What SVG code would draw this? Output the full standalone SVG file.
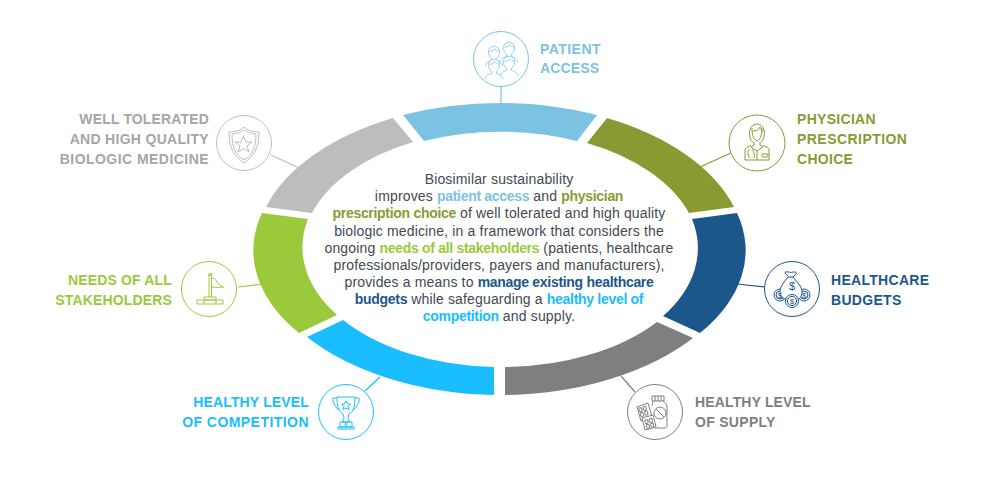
<svg xmlns="http://www.w3.org/2000/svg" xmlns:xlink="http://www.w3.org/1999/xlink" width="995" height="479" viewBox="0 0 995 479">
<style>
text{font-family:"Liberation Sans",Arial,sans-serif}
.lb{font-size:14px;font-weight:700;letter-spacing:.15px}
.w1{letter-spacing:.3px}
.w2{letter-spacing:.45px}
.e{text-anchor:end}
.body{font-size:14px;fill:#414a52;text-anchor:middle;letter-spacing:.16px}
.body tspan{font-weight:700;letter-spacing:-.3px}
.ic{fill:none;stroke-width:1}
.ring{fill:#fff;stroke-width:1}
.c-a{color:#7cc3e3}
.ln{stroke-width:1.2;fill:none}
</style>
<defs>
<g id="person" fill="#fff" stroke="currentColor" stroke-width="1">
<path d="M-11 14c1-5 4-6 8-7l0-3c-3-2-4-5-4-8 0-4 3-7 7-7s7 3 7 7c0 3-1 6-4 8l0 3c4 1 7 2 8 7"/>
<path d="M-6-5c3 1 6-1 7-3 1 2 3 3 5 3"/>
</g>
</defs>

<g id="connectors">
<line x1="501" y1="87" x2="501" y2="104" class="ln" stroke="#7cc3e3"/>
<line x1="731" y1="153" x2="700" y2="167" class="ln" stroke="#8a9a32"/>
<line x1="765" y1="287" x2="737" y2="284" class="ln" stroke="#1c578c"/>
<line x1="635" y1="392" x2="621" y2="376" class="ln" stroke="#7f7f7f"/>
<line x1="365" y1="391" x2="380" y2="377" class="ln" stroke="#1abdff"/>
<line x1="238" y1="287" x2="263" y2="284" class="ln" stroke="#9aca3c"/>
<line x1="271" y1="155" x2="299" y2="168" class="ln" stroke="#bdbdbd"/>
</g>

<g id="ring">
<path fill="#7cc3e3" d="M403 115A246 148 0 0 1 597 115L577 141A198 120 0 0 0 424 141Z"/>
<path fill="#8a9a32" d="M607 118A246 148 0 0 1 734 207L689 213A198 120 0 0 0 587 143Z"/>
<path fill="#1c578c" d="M737 213A230 138 0 0 1 700 333L663 316A198 120 0 0 0 692 219Z"/>
<path fill="#7f7f7f" d="M693 338A246 148 0 0 1 505 395L505 367A198 120 0 0 0 657 322Z"/>
<path fill="#1abdff" d="M494 395A246 148 0 0 1 307 337L343 320A198 120 0 0 0 494 367Z"/>
<path fill="#9aca3c" d="M299 333A230 138 0 0 1 262 213L308 219A198 120 0 0 0 337 315Z"/>
<path fill="#bdbdbd" d="M266 207A246 148 0 0 1 393 118L413 142A198 120 0 0 0 312 213Z"/>
</g>

<g id="node-patient-access" class="c-a">
<circle cx="501" cy="59" r="27.500" class="ring" stroke="#7cc3e3"/>
<use xlink:href="#person" href="#person" transform="translate(494 55) scale(.8)"/>
<use xlink:href="#person" href="#person" transform="translate(509 51) scale(.8)"/>
<use xlink:href="#person" href="#person" transform="translate(494 68) scale(.8)"/>
<use xlink:href="#person" href="#person" transform="translate(509 65) scale(.8)"/>
<text class="lb" fill="#7cc3e3"><tspan class="w2" x="540" y="54">PATIENT</tspan><tspan x="540" y="73">ACCESS</tspan></text>
</g>

<g id="node-physician">
<circle cx="757" cy="143" r="28" class="ring" stroke="#8a9a32"/>
<g class="ic" stroke="#8a9a32">
<path d="M750 137c-2-9 3-13 7-13s9 4 7 13c-1 3-2 4-3 5"/>
<path d="M750 137c0 3 2 5 3 5M753 131c3 0 6-1 7-4 1 2 2 4 3 5"/>
<path d="M752 128c0 6 1 11 5 13 4-2 5-7 5-13"/>
<path d="M754 142v3l-3 2 6 4 6-4-3-2v-3"/>
<path d="M745 160v-10c0-2 2-3 5-4l1-1M769 160v-10c0-2-2-3-5-4l-1-1"/>
<path d="M745 160h24M757 151v9"/>
<path d="M749 149c-2 3-1 7 1 9M754 158c1-3 0-6-2-9"/>
<rect x="762" y="154" width="6" height="3" rx="1"/>
</g>
<text class="lb w1" fill="#8a9a32"><tspan x="797" y="124">PHYSICIAN</tspan><tspan class="w2" x="797" y="144">PRESCRIPTION</tspan><tspan x="797" y="164">CHOICE</tspan></text>
</g>

<g id="node-budgets">
<circle cx="792" cy="289" r="27.500" class="ring" stroke="#1c578c"/>
<g class="ic" stroke="#1c578c">
<circle cx="780" cy="295" r="6"/><circle cx="804" cy="295" r="6"/>
<circle cx="780" cy="295" r="4"/><circle cx="804" cy="295" r="4"/>
</g>
<g fill="#fff" stroke="#1c578c">
<path d="M788 276l-3-3c0-2 2-1 3-1 2 0 3 1 5 0 2 0 4 0 3 2l-3 3"/>
<path d="M788 277c-3 4-8 9-8 15 0 4 3 7 6 7h12c2 0 4-3 4-7 0-6-6-11-9-15z"/>
<circle cx="792" cy="301" r="6.500"/><circle cx="792" cy="301" r="4.600"/>
</g>
<g text-anchor="middle" fill="#1c578c">
<text x="780" y="298" font-size="8">$</text>
<text x="804" y="298" font-size="8">$</text>
<text x="792" y="304" font-size="8">$</text>
<text x="792" y="290" font-size="11">$</text>
</g>
<text class="lb w1" fill="#1c578c"><tspan x="831" y="285">HEALTHCARE</tspan><tspan x="831" y="305">BUDGETS</tspan></text>
</g>

<g id="node-supply">
<circle cx="655" cy="412" r="27.500" class="ring" stroke="#7f7f7f"/>
<g class="ic" stroke="#7f7f7f">
<path d="M652 396h12v5h-12zM655 396v5M658 396v5M661 396v5"/>
<path d="M653 401c0 2-1 3-1 5M663 401c2 1 4 3 4 6v19c0 1-1 2-2 2h-10"/>
<circle cx="660" cy="413" r="6"/>
<path d="M656 409l8 8"/>
<path d="M637 407l11-4 4 14-11 4z" fill="#fff"/>
<path d="M642 418l11-3 3 12-11 3z" fill="#fff"/>
<g transform="rotate(-18 643 411)"><rect x="639.500" y="407" width="3" height="4" rx="1.400"/><rect x="644" y="407" width="3" height="4" rx="1.400"/><rect x="639.500" y="412" width="3" height="4" rx="1.400"/><rect x="644" y="412" width="3" height="4" rx="1.400"/></g>
<g transform="rotate(-16 649 423)"><rect x="645.500" y="419" width="3" height="4" rx="1.400"/><rect x="650" y="419" width="3" height="4" rx="1.400"/><rect x="645.500" y="424" width="3" height="4" rx="1.400"/><rect x="650" y="424" width="3" height="4" rx="1.400"/></g>
</g>
<text class="lb" fill="#7f7f7f"><tspan x="695" y="407">HEALTHY LEVEL</tspan><tspan class="w1" x="695" y="427">OF SUPPLY</tspan></text>
</g>

<g id="node-competition">
<circle cx="346" cy="412" r="27.500" class="ring" stroke="#1abdff"/>
<g class="ic" stroke="#1abdff">
<path d="M337 397h18c0 8-1 14-6 17l-1 3c0 2 1 4 2 5h-8c1-1 2-3 2-5l-1-3c-5-3-6-9-6-17z"/>
<path d="M337 398h-4c-1 0 0 8 7 13M355 398h4c1 0 0 8-7 13"/>
<path d="M346 401l1.500 3h3l-2.500 2.500 1 3-3-1.500-3 1.500 1-3-2.500-2.500h3z"/>
<path d="M340 422h12v5h-12zM338 427h16v2h-16z"/>
<circle cx="346" cy="424.500" r="1"/>
</g>
<text class="lb e" fill="#1abdff"><tspan x="309" y="407">HEALTHY LEVEL</tspan><tspan class="w2" x="309" y="427">OF COMPETITION</tspan></text>
</g>

<g id="node-needs">
<circle cx="209" cy="289" r="27.500" class="ring" stroke="#9aca3c"/>
<g class="ic" stroke="#9aca3c">
<path d="M209 297v-22h2.500v22"/><rect x="208.500" y="273.500" width="3.500" height="2" rx="1"/>
<path d="M211.500 277c2 2 4 2 5 4 1 3 3 4 7 6-3 1-8 0-12 0"/>
<path d="M204 297h12v3h-12zM197 300h26v4h-26zM204 300v4M216 300v4"/>
</g>
<text class="lb e" fill="#9aca3c"><tspan x="172" y="285">NEEDS OF ALL</tspan><tspan x="172" y="305">STAKEHOLDERS</tspan></text>
</g>

<g id="node-well-tolerated">
<circle cx="244" cy="143" r="27.500" class="ring" stroke="#bdbdbd"/>
<g class="ic" stroke="#bdbdbd">
<path d="M244 127c-3 3-8 5-15 5 0 14 4 24 15 31 11-7 15-17 15-31-7 0-12-2-15-5z"/>
<path d="M244 130c-3 2-7 4-12 4 0 12 3 21 12 26 9-5 12-14 12-26-5 0-9-2-12-4z"/>
<path d="M243.500 136l2.500 6h6l-5 4 2 6-5.500-3.500-5.500 3.500 2-6-5-4h6z"/>
</g>
<text class="lb e" fill="#a6a6a6"><tspan x="209" y="124">WELL TOLERATED</tspan><tspan class="w1" x="209" y="144">AND HIGH QUALITY</tspan><tspan class="w2" x="209" y="164">BIOLOGIC MEDICINE</tspan></text>
</g>

<g id="center-text">
<text class="body" x="499" y="184">Biosimilar sustainability</text>
<text class="body" x="499" y="201">improves <tspan fill="#7cc3e3">patient access</tspan> and <tspan fill="#8a9a32">physician</tspan></text>
<text class="body" x="499" y="218"><tspan fill="#8a9a32">prescription choice</tspan> of well tolerated and high quality</text>
<text class="body" x="499" y="235.500">biologic medicine, in a framework that considers the</text>
<text class="body" x="499" y="252.500">ongoing <tspan fill="#9aca3c">needs of all stakeholders</tspan> (patients, healthcare</text>
<text class="body" x="499" y="270">professionals/providers, payers and manufacturers),</text>
<text class="body" x="499" y="287">provides a means to <tspan fill="#1c578c">manage existing healthcare</tspan></text>
<text class="body" x="499" y="304"><tspan fill="#1c578c">budgets</tspan> while safeguarding a <tspan fill="#1abdff">healthy level of</tspan></text>
<text class="body" x="499" y="321"><tspan fill="#1abdff">competition</tspan> and supply.</text>
</g>
</svg>
